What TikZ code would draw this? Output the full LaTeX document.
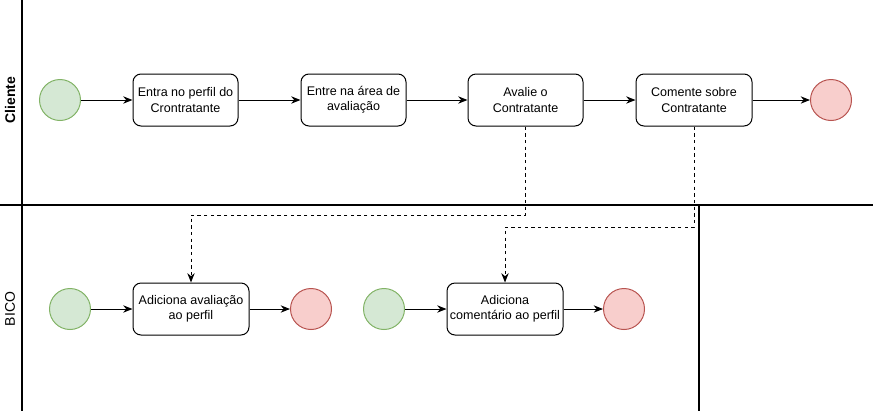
\documentclass[tikz,border=0pt]{standalone}
\usepackage{fontspec}
\setmainfont{Liberation Sans}
\usetikzlibrary{arrows.meta}

\definecolor{verdeBorda}{RGB}{130,179,102}
\definecolor{verdeFundo}{RGB}{213,232,212}
\definecolor{vermBorda}{RGB}{184,84,80}
\definecolor{vermFundo}{RGB}{248,206,204}

\tikzset{every picture/.style={line width=0.75pt}}
\tikzset{
  tarefa/.style={draw, rounded corners=6pt, align=center, inner sep=1pt,
    minimum height=39pt, font=\fontsize{9.4}{11.5}\selectfont},
  inicio/.style={circle, draw=verdeBorda, fill=verdeFundo, minimum size=30.75pt, inner sep=0pt},
  fim/.style={circle, draw=vermBorda, fill=vermFundo, minimum size=30.75pt, inner sep=0pt},
  fluxo/.style={-{Stealth[length=7pt,width=5.5pt]}},
  mensagem/.style={dash pattern=on 2.5pt off 2.5pt, -{Stealth[length=7pt,width=5.5pt]}},
  raia/.style={rotate=90, font=\fontsize{10.5}{12}\selectfont},
  divisa/.style={line width=1.1pt}
}

\begin{document}
\begin{tikzpicture}[x=0.75pt,y=0.75pt,yscale=-1,xscale=1]
\path[use as bounding box] (0,0) rectangle (873,411);

%Lanes
\draw [divisa] (22,0) -- (22,411) ;
\draw [divisa] (0,205) -- (873,205) ;
\draw [divisa] (699,205) -- (699,411) ;

% Lane labels
\node [raia] (cliente) at (10,100) {\textbf{Cliente}};
\node [raia] (bico) at (10,309) {BICO};

% Cliente
\node [inicio] (ini1) at (60,100) {};
\node [tarefa, minimum width=78.75pt] (perfil) at (185.5,100) {Entra no perfil do\\Crontratante};
\node [tarefa, minimum width=78.75pt] (area) at (353.5,100) {Entre na área de\\avaliação};
\node [tarefa, minimum width=86.25pt] (avalie) at (525.5,100) {Avalie o\\Contratante};
\node [tarefa, minimum width=87pt] (comente) at (694,100) {Comente sobre\\Contratante};
\node [fim] (fim1) at (831,100) {};

% BICO
\node [inicio] (ini2) at (70,309) {};
\node [tarefa, minimum width=87pt] (addaval) at (191,309) {Adiciona avaliação\\ao perfil};
\node [fim] (fim2) at (311,309) {};
\node [inicio] (ini3) at (384,309) {};
\node [tarefa, minimum width=87pt] (addcom) at (505,309) {Adiciona\\comentário ao perfil};
\node [fim] (fim3) at (624,309) {};

%Straight Lines
\draw [fluxo] (ini1) -- (perfil) ;
\draw [fluxo] (perfil) -- (area) ;
\draw [fluxo] (area) -- (avalie) ;
\draw [fluxo] (avalie) -- (comente) ;
\draw [fluxo] (comente) -- (fim1) ;
\draw [fluxo] (ini2) -- (addaval) ;
\draw [fluxo] (addaval) -- (fim2) ;
\draw [fluxo] (ini3) -- (addcom) ;
\draw [fluxo] (addcom) -- (fim3) ;

%Dashed Lines
\coordinate (dobra1) at (0,215);
\coordinate (dobra2) at (0,227);
\draw [mensagem] (avalie.south) |- (dobra1 -| addaval.north) -- (addaval.north) ;
\draw [mensagem] (comente.south) |- (dobra2 -| addcom.north) -- (addcom.north) ;
\end{tikzpicture}
\end{document}
